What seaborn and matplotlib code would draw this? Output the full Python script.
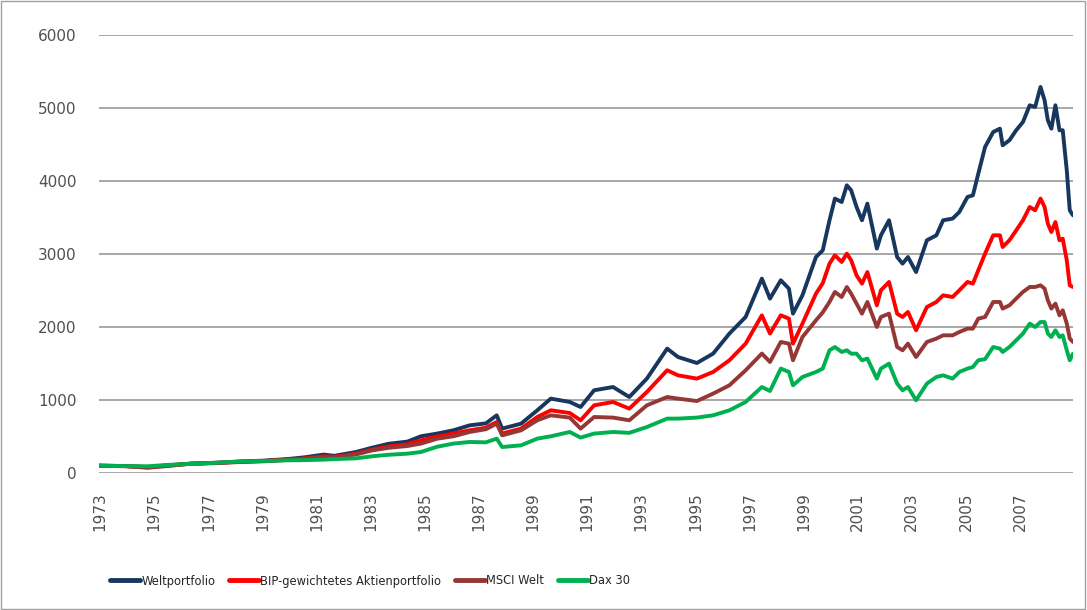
import numpy as np
import pandas as pd
import seaborn as sns
import matplotlib.pyplot as plt
from matplotlib.patches import Rectangle

# Zeitpunkte als Dezimaljahre
dates = [1973.0, 1974.0, 1974.8, 1975.5, 1976.4, 1977.3, 1978.2, 1979.1, 1980.0, 1980.6,
         1981.3, 1981.7, 1982.5, 1983.1, 1983.7, 1984.4, 1984.9, 1985.5, 1986.1, 1986.7,
         1987.3, 1987.7, 1987.9, 1988.6, 1989.2, 1989.7, 1990.4, 1990.8, 1991.3, 1992.0,
         1992.6, 1993.25, 1994.0, 1994.4, 1995.1, 1995.7, 1996.3, 1996.9, 1997.5, 1997.8,
         1998.2, 1998.5, 1998.65, 1999.0, 1999.5, 1999.75, 2000.0, 2000.2, 2000.45, 2000.64,
         2000.8, 2001.0, 2001.2, 2001.4, 2001.75, 2001.9, 2002.2, 2002.5, 2002.7, 2002.9,
         2003.2, 2003.6, 2003.95, 2004.2, 2004.55, 2004.8, 2005.1, 2005.3, 2005.5, 2005.75,
         2006.05, 2006.3, 2006.4, 2006.65, 2006.9, 2007.15, 2007.4, 2007.6, 2007.8, 2007.95,
         2008.07, 2008.2, 2008.35, 2008.5, 2008.62, 2008.77, 2008.88, 2009.0]

welt = [100, 95, 80, 105, 128, 140, 156, 170, 192, 215,
        252, 235, 288, 347, 400, 430, 503, 540, 585, 653,
        680, 790, 608, 676, 859, 1019, 973, 904, 1133, 1178,
        1041, 1293, 1704, 1589, 1507, 1636, 1910, 2137, 2663, 2389,
        2640, 2526, 2183, 2434, 2959, 3050, 3462, 3759, 3712, 3941,
        3873, 3644, 3462, 3690, 3074, 3256, 3462, 2959, 2868, 2959,
        2753, 3188, 3256, 3462, 3485, 3576, 3781, 3804, 4101, 4466,
        4671, 4717, 4489, 4558, 4695, 4808, 5037, 5014, 5288, 5105,
        4832, 4717, 5037, 4695, 4695, 4147, 3599, 3530]

bip = [100, 95, 78, 100, 128, 138, 155, 165, 185, 200,
       229, 220, 265, 320, 365, 393, 448, 500, 540, 585,
       620, 699, 540, 608, 767, 859, 822, 722, 927, 973,
       882, 1110, 1407, 1338, 1293, 1384, 1544, 1772, 2160, 1910,
       2160, 2115, 1772, 2046, 2457, 2600, 2868, 2982, 2891, 3005,
       2914, 2708, 2594, 2753, 2297, 2503, 2617, 2183, 2137, 2206,
       1955, 2274, 2343, 2434, 2411, 2503, 2617, 2594, 2777, 3005,
       3256, 3256, 3096, 3188, 3324, 3462, 3644, 3599, 3759, 3644,
       3416, 3301, 3438, 3188, 3210, 2914, 2571, 2548]

msci = [100, 92, 72, 95, 128, 135, 150, 160, 180, 195,
        215, 212, 254, 310, 345, 370, 403, 470, 503, 562,
        600, 676, 516, 585, 722, 790, 759, 608, 767, 759,
        722, 927, 1041, 1019, 986, 1088, 1201, 1407, 1636, 1521,
        1795, 1772, 1544, 1863, 2092, 2200, 2343, 2480, 2411, 2548,
        2457, 2320, 2183, 2343, 2000, 2137, 2183, 1726, 1681, 1772,
        1589, 1795, 1841, 1886, 1886, 1932, 1978, 1978, 2115, 2137,
        2343, 2343, 2252, 2297, 2389, 2480, 2548, 2548, 2571, 2526,
        2366, 2252, 2320, 2160, 2229, 2046, 1841, 1795]

dax = [100, 95, 92, 110, 125, 140, 158, 165, 174, 176,
       183, 190, 201, 229, 250, 265, 288, 360, 403, 425,
       420, 471, 356, 379, 471, 503, 562, 485, 540, 562,
       550, 630, 745, 745, 759, 790, 859, 973, 1178, 1123,
       1430, 1384, 1201, 1315, 1384, 1430, 1681, 1726, 1658, 1681,
       1635, 1635, 1544, 1567, 1293, 1430, 1498, 1225, 1133, 1178,
       996, 1225, 1315, 1338, 1293, 1384, 1430, 1452, 1544, 1560,
       1726, 1704, 1658, 1726, 1818, 1910, 2046, 2000, 2068, 2068,
       1910, 1863, 1955, 1863, 1886, 1681, 1544, 1635]

series_names = ['Weltportfolio', 'BIP-gewichtetes Aktienportfolio', 'MSCI Welt', 'Dax 30']
colors = ['#17375E', '#FF0000', '#953735', '#00B050']
year_labels = list(range(1973, 2009, 2))
y_ticks = [0, 1000, 2000, 3000, 4000, 5000, 6000]

df = pd.DataFrame({'Jahr': dates, series_names[0]: welt, series_names[1]: bip,
                   series_names[2]: msci, series_names[3]: dax})
long_df = df.melt(id_vars='Jahr', var_name='Serie', value_name='Wert')

sns.set_theme(style='white')
plt.rcParams['font.family'] = ['DejaVu Sans']

fig = plt.figure(figsize=(10.87, 6.10), dpi=100)
ax = fig.add_axes([99 / 1087, 1 - 473 / 610, 974 / 1087, 438 / 610])

sns.lineplot(data=long_df, x='Jahr', y='Wert', hue='Serie', hue_order=series_names,
             palette=colors, linewidth=2.8, ax=ax, legend=True)

ax.set_xlim(1973.0, 2009.0)
ax.set_ylim(0, 6000)
ax.set_yticks(y_ticks)
ax.set_yticklabels([str(v) for v in y_ticks], fontsize=11, color='#505050')
ax.set_xticks([y + 0.5 / 12 for y in year_labels])
ax.set_xticklabels([str(y) for y in year_labels], rotation=90, fontsize=11, color='#505050')
ax.tick_params(axis='both', length=0, pad=14)
ax.tick_params(axis='y', pad=16)
ax.set_xlabel('')
ax.set_ylabel('')
ax.yaxis.grid(True, color='#A0A0A0', linewidth=1.3)
ax.set_axisbelow(True)
for s in ax.spines.values():
    s.set_visible(False)

handles, labels = ax.get_legend_handles_labels()
ax.legend(handles, labels, loc='center left', bbox_to_anchor=(100 / 1087, 1 - 581 / 610),
          bbox_transform=fig.transFigure, ncol=4, frameon=False, fontsize=8.3,
          handlelength=2.6, handletextpad=0.1, columnspacing=1.2)
for line in ax.get_legend().get_lines():
    line.set_linewidth(3.5)

fig.patches.append(Rectangle((0.001, 0.002), 0.997, 0.996, transform=fig.transFigure,
                             fill=False, edgecolor='#A0A0A0', linewidth=1))

fig.savefig('out.png', dpi=100)
